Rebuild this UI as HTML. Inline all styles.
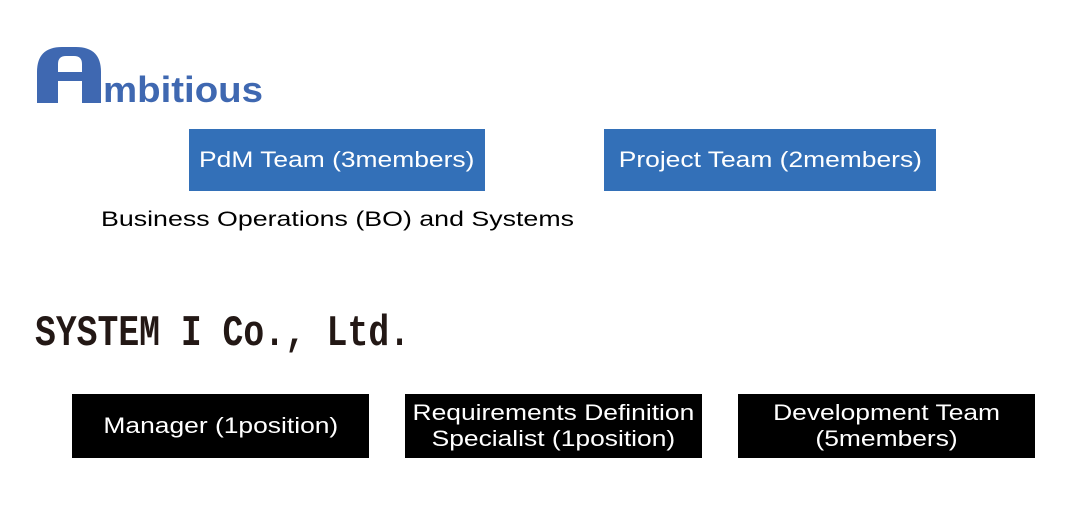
<!DOCTYPE html>
<html><head><meta charset="utf-8"><style>
body{margin:0;width:1075px;height:513px;background:#fff;position:relative;overflow:hidden;font-family:"Liberation Sans","DejaVu Sans",sans-serif}
.a{position:absolute}
.bx{position:absolute;display:flex;align-items:center;justify-content:center;text-align:center;color:#fff;font-size:22px;line-height:26px}
.bx span{display:inline-block;transform:scaleX(1.2);white-space:nowrap}
.blue{background:#3370b8}
.blk{background:#000}
</style></head><body>
<svg class="a" style="left:0;top:0" width="300" height="120">
<path d="M37 103 V72 Q37 47 62 47 H76 Q101 47 101 72 V103 H82 V81 H58 V103 Z M58 72 H82 V64 Q82 56 74 56 H66 Q58 56 58 64 Z" fill="#3f68b1" fill-rule="evenodd"/>
<text x="103" y="102" font-family="Liberation Sans" font-weight="bold" font-size="36" fill="#3f68b1" textLength="160" lengthAdjust="spacingAndGlyphs">mbitious</text>
</svg>
<div class="bx blue" style="left:189px;top:129px;width:296px;height:62px"><span>PdM Team (3members)</span></div>
<div class="bx blue" style="left:604px;top:129px;width:332px;height:62px"><span>Project Team (2members)</span></div>
<svg class="a" style="left:0;top:200px" width="600" height="40">
<text x="101" y="26" font-family="Liberation Sans" font-size="21" fill="#000" textLength="473" lengthAdjust="spacingAndGlyphs">Business Operations (BO) and Systems</text>
</svg>
<svg class="a" style="left:0;top:295px" width="440" height="70">
<text x="35" y="50" font-family="Liberation Mono" font-weight="bold" font-size="44" fill="#231815" textLength="375" lengthAdjust="spacingAndGlyphs">SYSTEM I Co., Ltd.</text>
</svg>
<div class="bx blk" style="left:72px;top:394px;width:297px;height:64px"><span>Manager (1position)</span></div>
<div class="bx blk" style="left:405px;top:394px;width:297px;height:64px"><span>Requirements Definition<br>Specialist (1position)</span></div>
<div class="bx blk" style="left:738px;top:394px;width:297px;height:64px"><span>Development Team<br>(5members)</span></div>
</body></html>
